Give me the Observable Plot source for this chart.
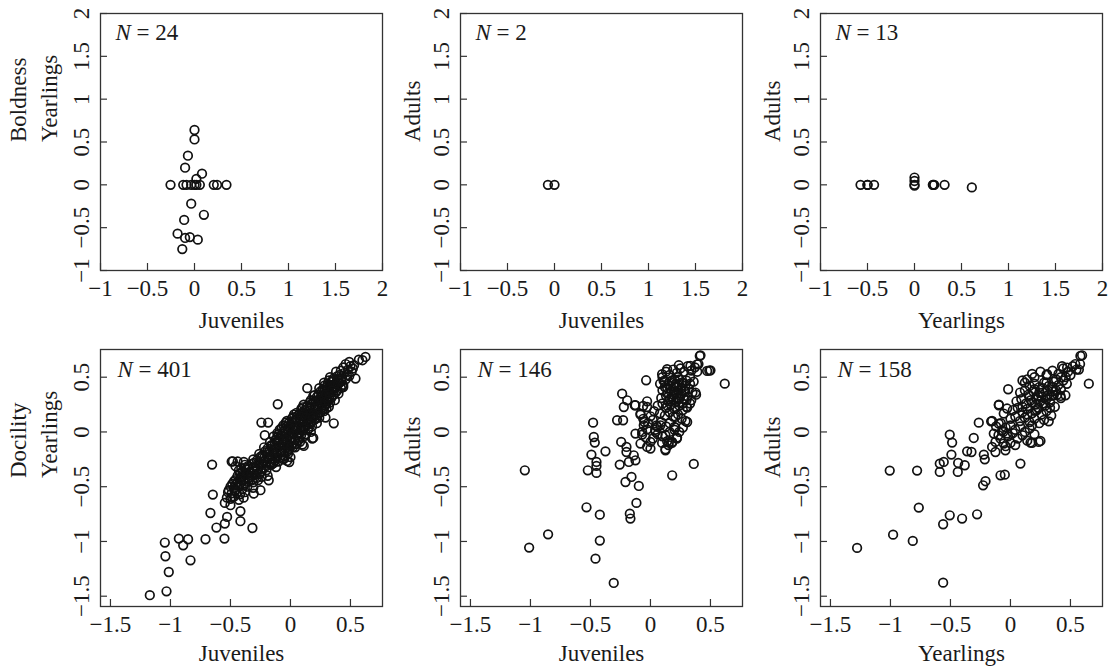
<!DOCTYPE html>
<html>
<head>
<meta charset="utf-8">
<script src="https://cdn.jsdelivr.net/npm/d3@7"></script>
<script src="https://cdn.jsdelivr.net/npm/@observablehq/plot@0.6"></script>
<style>
  html, body { margin: 0; padding: 0; background: #fff; overflow: hidden; }
  #fig { position: relative; width: 1110px; height: 669px; }
  #fig > svg { position: absolute; font-family: "Liberation Serif", "DejaVu Serif", serif !important; }
  #fig > svg text { font-family: "Liberation Serif", "DejaVu Serif", serif !important; }
</style>
</head>
<body>
<div id="fig"></div>
<script>
// ---------- data ----------
const boldJuvYear = [[0,0.64],[0,0.53],[-0.07,0.34],[-0.1,0.2],[0.08,0.13],[0.02,0.07],[-0.255,0],[-0.12,0],[-0.085,0],[-0.035,0],[0,0],[0.057,0],[0.205,0],[0.24,0],[0.34,0],[0.02,0],[-0.035,-0.22],[0.1,-0.35],[-0.11,-0.41],[-0.18,-0.57],[-0.1,-0.62],[-0.05,-0.61],[0.035,-0.64],[-0.13,-0.75]];
const boldJuvAdult = [[-0.07,0],[0,0]];
const boldYearAdult = [[-0.574,0],[-0.5,0],[-0.43,0],[0,0.085],[0,0.045],[0,-0.01],[0,0],[0.195,0],[0.21,0],[0.32,0],[0.61,-0.03],[0.2,0],[-0.5,0]];

const docJuvYear = [
[-1.172,-1.491],[-1.033,-1.455],[-1.014,-1.279],[-1.042,-1.135],[-1.047,-1.01],[-0.93,-0.974],[-0.894,-1.035],[-0.853,-0.98],[-0.833,-1.172],[-0.708,-0.98],[-0.55,-0.974],[-0.617,-0.873],[-0.667,-0.74],[-0.647,-0.572],[-0.653,-0.298],[-0.317,-0.877],[-0.417,-0.815],[-0.547,-0.837],[-0.528,-0.776],[-0.417,-0.724],[-0.547,-0.648],[-0.5,-0.669],[-0.486,-0.594],[-0.514,-0.532],[-0.464,-0.532],
[-0.106,0.253],[-0.242,0.086],[-0.186,0.086],[-0.48,-0.268],[-0.458,-0.313],[-0.389,-0.274],[-0.306,-0.563],[-0.25,-0.532],[-0.181,-0.441],[-0.214,-0.03],[0.361,0.079],[0.292,0.131],[0.181,-0.06],[0.111,-0.128],[-0.028,-0.265],[0.57,0.66],[0.625,0.685],[0.6,0.655],[0.542,0.488],
[0.46,0.62],[0.5,0.6],[0.53,0.61],[0.49,0.64],[0.44,0.59],
[0.38,0.55],[0.42,0.56],[0.45,0.54],[0.48,0.57],[0.51,0.55],[0.41,0.52],[0.47,0.52],[0.52,0.58],
[0.33,0.5],[0.36,0.49],[0.39,0.51],[0.43,0.5],[0.46,0.48],[0.49,0.51],[0.35,0.46],[0.4,0.47],
[0.28,0.45],[0.31,0.44],[0.34,0.46],[0.37,0.44],[0.41,0.45],[0.44,0.43],[0.3,0.41],[0.33,0.42],[0.38,0.41],[0.42,0.4],
[0.24,0.4],[0.27,0.39],[0.3,0.38],[0.35,0.39],[0.39,0.38],[0.44,0.41],[0.14,0.4],[0.26,0.36],[0.29,0.35],[0.33,0.36],[0.36,0.34],[0.4,0.35],
[0.19,0.33],[0.22,0.32],[0.25,0.31],[0.28,0.32],[0.31,0.3],[0.34,0.31],[0.37,0.29],[0.17,0.29],[0.21,0.28],[0.24,0.27],[0.27,0.28],[0.3,0.26],[0.33,0.27],
[0.11,0.25],[0.14,0.24],[0.17,0.25],[0.2,0.23],[0.23,0.24],[0.26,0.22],[0.29,0.24],[0.32,0.23],[0.09,0.21],[0.12,0.2],[0.16,0.21],[0.19,0.19],[0.22,0.2],[0.25,0.18],[0.28,0.19],
[0.03,0.16],[0.06,0.15],[0.09,0.17],[0.12,0.15],[0.15,0.16],[0.18,0.14],[0.21,0.15],[0.24,0.13],[0.01,0.12],[0.04,0.11],[0.08,0.12],[0.11,0.1],[0.14,0.11],[0.17,0.09],[0.2,0.11],[-0.03,0.1],[0.22,0.08],
[-0.06,0.06],[-0.03,0.05],[0,0.07],[0.03,0.05],[0.06,0.06],[0.09,0.04],[0.12,0.05],[0.15,0.03],[0.18,0.05],[-0.09,0.02],[-0.05,0.01],[-0.02,0.02],[0.01,0],[0.04,0.01],[0.07,-0.01],[0.1,0.01],[0.13,-0.02],[0.17,0],[-0.11,-0.01],
[-0.14,-0.04],[-0.11,-0.05],[-0.08,-0.03],[-0.05,-0.06],[-0.02,-0.04],[0.01,-0.05],[0.04,-0.07],[0.07,-0.05],[0.19,-0.055],[-0.17,-0.09],[-0.13,-0.1],[-0.1,-0.08],[-0.07,-0.11],[-0.04,-0.09],[-0.01,-0.12],[0.02,-0.1],[0.05,-0.11],[0.08,-0.09],[0.1,-0.115],
[-0.22,-0.14],[-0.19,-0.15],[-0.16,-0.13],[-0.13,-0.16],[-0.1,-0.14],[-0.07,-0.17],[-0.04,-0.15],[-0.01,-0.16],[0.02,-0.14],[-0.26,-0.2],[-0.23,-0.21],[-0.2,-0.19],[-0.17,-0.22],[-0.14,-0.2],[-0.11,-0.21],[-0.08,-0.19],[-0.05,-0.22],[-0.02,-0.2],[0,-0.23],
[-0.31,-0.25],[-0.28,-0.26],[-0.25,-0.24],[-0.22,-0.27],[-0.19,-0.25],[-0.16,-0.28],[-0.13,-0.26],[-0.1,-0.27],[-0.06,-0.25],[-0.01,-0.275],[-0.49,-0.27],[-0.44,-0.27],[-0.38,-0.3],[-0.35,-0.31],[-0.32,-0.29],[-0.29,-0.32],[-0.26,-0.3],[-0.23,-0.33],[-0.2,-0.31],[-0.16,-0.3],[-0.12,-0.32],
[-0.43,-0.35],[-0.4,-0.36],[-0.37,-0.34],[-0.34,-0.37],[-0.31,-0.35],[-0.28,-0.38],[-0.24,-0.36],[-0.2,-0.35],[-0.44,-0.4],[-0.41,-0.41],[-0.38,-0.39],[-0.35,-0.42],[-0.32,-0.4],[-0.28,-0.42],[-0.24,-0.41],[-0.19,-0.4],
[-0.47,-0.45],[-0.44,-0.46],[-0.41,-0.44],[-0.38,-0.47],[-0.35,-0.45],[-0.31,-0.46],[-0.27,-0.44],[-0.5,-0.5],[-0.47,-0.51],[-0.44,-0.49],[-0.4,-0.52],[-0.36,-0.5],[-0.31,-0.51],
[-0.52,-0.55],[-0.49,-0.56],[-0.46,-0.54],[-0.42,-0.57],[-0.38,-0.55],[-0.53,-0.6],[-0.5,-0.61],[-0.47,-0.59],[-0.43,-0.62],[-0.39,-0.6],
[0.32,0.47],[0.355,0.475],[0.395,0.485],[0.425,0.465],
[0.285,0.425],[0.325,0.43],[0.36,0.42],[0.395,0.43],[0.43,0.42],
[0.25,0.37],[0.285,0.375],[0.315,0.365],[0.345,0.38],[0.38,0.365],
[0.2,0.335],[0.235,0.34],[0.265,0.33],[0.295,0.34],[0.325,0.325],[0.355,0.335],
[0.16,0.27],[0.19,0.285],[0.225,0.29],[0.255,0.265],[0.285,0.275],[0.315,0.285],
[0.1,0.225],[0.135,0.225],[0.165,0.23],[0.205,0.215],[0.235,0.225],[0.27,0.21],[0.3,0.215],
[0.05,0.175],[0.075,0.165],[0.105,0.18],[0.135,0.17],[0.165,0.175],[0.195,0.165],[0.23,0.17],
[0.02,0.135],[0.05,0.13],[0.095,0.14],[0.125,0.13],[0.155,0.125],[0.185,0.13],[0.215,0.125],
[-0.04,0.085],[-0.015,0.08],[0.015,0.09],[0.045,0.085],[0.075,0.08],[0.105,0.075],[0.135,0.07],[0.165,0.075],
[-0.075,0.035],[-0.045,0.03],[-0.01,0.04],[0.02,0.03],[0.055,0.035],[0.085,0.02],[0.115,0.03],[0.145,0.02],
[-0.1,-0.02],[-0.065,-0.015],[-0.035,-0.02],[-0.005,-0.025],[0.025,-0.02],[0.055,-0.03],[0.09,-0.025],[0.12,-0.035],
[-0.125,-0.07],[-0.095,-0.065],[-0.06,-0.075],[-0.03,-0.07],[0,-0.08],[0.035,-0.075],[0.065,-0.08],
[-0.16,-0.12],[-0.12,-0.125],[-0.09,-0.13],[-0.055,-0.12],[-0.025,-0.135],[0.01,-0.125],[0.04,-0.14],
[-0.21,-0.175],[-0.175,-0.18],[-0.145,-0.17],[-0.115,-0.185],[-0.085,-0.175],[-0.05,-0.18],[-0.02,-0.175],
[-0.25,-0.225],[-0.215,-0.23],[-0.185,-0.225],[-0.15,-0.24],[-0.12,-0.23],[-0.085,-0.235],[-0.05,-0.24],
[-0.3,-0.28],[-0.27,-0.285],[-0.235,-0.29],[-0.2,-0.28],[-0.17,-0.29],[-0.14,-0.285],
[-0.41,-0.33],[-0.38,-0.325],[-0.345,-0.335],[-0.31,-0.33],[-0.275,-0.345],[-0.245,-0.335],
[-0.42,-0.38],[-0.39,-0.375],[-0.36,-0.385],[-0.325,-0.38],[-0.295,-0.39],[-0.26,-0.385],
[-0.455,-0.43],[-0.42,-0.425],[-0.39,-0.435],[-0.355,-0.43],[-0.32,-0.44],
[-0.485,-0.475],[-0.455,-0.48],[-0.42,-0.475],[-0.39,-0.49]
];

const docJuvAdult = [
[-1.047,-0.35],[-1.011,-1.056],[-0.853,-0.935],[-0.533,-0.688],[-0.422,-0.755],[-0.422,-0.992],[-0.458,-1.157],[-0.306,-1.379],
[-0.478,0.085],[-0.472,-0.046],[-0.464,-0.097],[-0.375,-0.177],[-0.492,-0.207],[-0.45,-0.274],[-0.45,-0.31],[-0.522,-0.35],[-0.45,-0.374],
[-0.278,0.107],[-0.228,0.107],[-0.244,-0.091],[-0.256,-0.298],[-0.236,0.35],[-0.194,0.289],[-0.222,0.228],[-0.131,0.244],
[-0.2,-0.137],[-0.2,-0.183],[-0.18,-0.274],[-0.139,-0.213],[-0.125,-0.259],[-0.208,-0.457],[-0.158,-0.411],[-0.097,-0.493],[-0.117,-0.648],[-0.172,-0.746],[-0.167,-0.791],
[-0.036,0.472],[-0.028,0.28],[-0.061,0.237],[-0.083,0.158],[-0.05,0.091],[-0.028,0.024],[-0.069,-0.024],[0,0.143],[0,-0.091],[0,-0.152],[0.042,0],[0.056,0.046],[0.083,0.061],[0.125,-0.03],[0.139,-0.085],[0.181,-0.091],[0.125,-0.167],[0.181,-0.396],[0.361,-0.292],[0.619,0.441],[0.417,0.7],[0.5,0.563],[0.49,0.56],[0.306,0.091],[0.208,0.137],[0.2,0.046],
[-0.125,0.244],[-0.083,0.168],[-0.056,0.061],[-0.069,0],[-0.125,-0.015],[-0.083,-0.106],[-0.028,-0.137],[-0.028,0.228],
[0.1,0.5],[0.13,0.55],[0.16,0.52],[0.19,0.57],[0.22,0.54],[0.25,0.58],[0.28,0.55],[0.31,0.6],[0.34,0.56],[0.37,0.59],[0.4,0.62],[0.39,0.55],[0.33,0.5],
[0.08,0.44],[0.12,0.46],[0.15,0.43],[0.18,0.47],[0.21,0.44],[0.24,0.48],[0.27,0.45],[0.3,0.47],[0.33,0.44],[0.36,0.46],
[0.1,0.38],[0.14,0.4],[0.17,0.37],[0.2,0.41],[0.23,0.38],[0.26,0.4],[0.29,0.37],[0.32,0.39],[0.35,0.36],[0.38,0.34],
[0.09,0.31],[0.13,0.33],[0.16,0.3],[0.19,0.34],[0.22,0.31],[0.25,0.33],[0.28,0.3],[0.31,0.32],[0.34,0.29],
[0.06,0.24],[0.1,0.26],[0.13,0.22],[0.17,0.25],[0.2,0.21],[0.24,0.24],[0.27,0.2],[0.3,0.23],[0.33,0.26],
[0.03,0.19],[0.08,0.17],[0.12,0.15],[0.16,0.18],[0.19,0.14],[0.23,0.16],[0.26,0.12],
[-0.06,0.12],[-0.02,0.08],[0.02,0.11],[0.05,0.06],[0.09,0.09],[0.13,0.05],[0.16,0.08],[0.2,0.02],[0.24,0],[0.27,0.04],[0.22,-0.06],[0.18,-0.1],[0.15,-0.12],[0.1,-0.04],[0.06,-0.02],[0.02,-0.06],[-0.04,-0.05],[0.04,0.02],[0.16,0],
[0.411,0.694],[0.472,0.557],[0.389,0.618],[0.333,0.603],[0.236,0.609],[0.139,0.573],[0.097,0.527],[0.11,0.466],[0.375,0.36],[0.306,0.223],[0.292,0.1],[0.208,0.04],[0.222,-0.051],[0.153,-0.097],[0.097,-0.1],[0.125,-0.158],
[0.14,0.35],[0.17,0.42],[0.2,0.36],[0.23,0.43],[0.26,0.35],[0.29,0.42],[0.15,0.28],[0.18,0.32],[0.21,0.27],[0.24,0.3],[0.27,0.26],[0.3,0.29],[0.2,0.48],[0.23,0.5],[0.26,0.45],[0.16,0.46],[0.12,0.41],[0.28,0.38],[0.22,0.35],[0.25,0.39],[0.19,0.3],[0.14,0.24],[0.21,0.22]
];

const docYearAdult = [
[-1.278,-1.059],[-1.006,-0.353],[-0.778,-0.353],[-0.764,-0.691],[-0.978,-0.938],[-0.814,-0.995],[-0.561,-1.376],[-0.561,-0.843],[-0.506,-0.761],[-0.403,-0.791],[-0.278,-0.752],
[-0.506,-0.024],[-0.486,-0.097],[-0.492,-0.207],[-0.589,-0.289],[-0.589,-0.365],[-0.556,-0.274],[-0.436,-0.283],[-0.439,-0.365],[-0.381,-0.304],[-0.361,-0.177],[-0.325,-0.183],[-0.306,-0.055],[-0.264,0.085],[-0.222,-0.207],[-0.214,-0.25],[-0.228,-0.487],[-0.208,-0.45],[-0.083,-0.396],[-0.047,-0.39],[0.083,-0.289],[-0.019,0.39],[-0.097,0.25],[-0.161,0.097],[0.236,-0.091],[0.319,0.097],[0.653,0.441],[0.583,0.694],[0.361,0.335],[0.458,0.335],
[-0.153,0.1],[-0.097,0.244],[-0.056,0.168],[-0.028,0.214],[-0.097,0.076],[-0.069,0.015],[-0.028,-0.015],[-0.139,-0.015],[-0.125,-0.091],[-0.153,-0.137],[-0.056,-0.106],[-0.125,-0.183],[-0.042,-0.167],[-0.083,-0.061],
[0.2,0.5],[0.25,0.55],[0.3,0.52],[0.35,0.56],[0.4,0.53],[0.44,0.58],[0.48,0.55],[0.52,0.6],[0.55,0.57],[0.58,0.62],[0.5,0.52],[0.46,0.5],
[0.12,0.45],[0.16,0.42],[0.2,0.44],[0.24,0.41],[0.28,0.45],[0.32,0.42],[0.36,0.46],[0.4,0.43],[0.44,0.47],[0.47,0.44],[0.42,0.39],
[0.08,0.36],[0.12,0.38],[0.15,0.34],[0.19,0.37],[0.23,0.33],[0.27,0.36],[0.31,0.33],[0.35,0.37],[0.39,0.34],[0.42,0.31],
[0.05,0.28],[0.09,0.3],[0.13,0.26],[0.17,0.29],[0.21,0.25],[0.25,0.28],[0.29,0.24],[0.33,0.27],[0.37,0.23],
[0.02,0.2],[0.06,0.22],[0.1,0.18],[0.14,0.21],[0.18,0.17],[0.22,0.2],[0.26,0.16],[0.3,0.19],[0.34,0.15],
[0,0.12],[0.04,0.14],[0.08,0.1],[0.12,0.13],[0.16,0.09],[0.2,0.12],[0.24,0.08],[0.28,0.11],
[-0.12,0.05],[-0.08,0.08],[-0.04,0.04],[0,0.06],[0.04,0.02],[0.08,0.05],[0.12,0],[0.16,0.03],[0.2,-0.02],[0.18,0.06],[-0.1,-0.03],[-0.06,0],[-0.02,-0.04],[0.02,-0.01],[0.06,-0.06],[0.1,-0.03],[0.14,-0.08],[0,-0.1],[-0.04,-0.13],[0.04,-0.12],[0.18,-0.1],
[0.597,0.7],[0.472,0.588],[0.54,0.62],[0.57,0.57],[0.43,0.6],[0.417,0.329],[0.208,0.192],[0.25,-0.082],[0.167,-0.097],[0.139,0.481],[0.1,0.47],[0.18,0.53],[0.306,0.527],
[0.22,0.3],[0.26,0.32],[0.3,0.3],[0.34,0.33],[0.27,0.4],[0.31,0.38],[0.35,0.41],[0.38,0.38],[0.18,0.27],[0.23,0.22],[0.28,0.26],[0.33,0.22],[0.16,0.33],[0.2,0.39],[0.24,0.36],[0.38,0.48],[0.42,0.5],[0.3,0.45],[0.1,0.23],[0.14,0.16]
];

const topTicks = [-1, -0.5, 0, 0.5, 1, 1.5, 2];
const bottomXTicks = [-1.5, -1, -0.5, 0, 0.5];
const bottomYTicks = [-1.5, -1, -0.5, 0, 0.5];
const topDomain = [-1, 2];
const bottomXDomain = [-1.583, 0.767];
const bottomYDomain = [-1.594, 0.753];

// ---------- panels ----------
const panels = [
  {data: boldJuvYear,   left: 0,   top: 0,   width: 390, ml: 100, row: "top", xLab: "Juveniles", yLab: "Yearlings", yDx: -51, outer: "Boldness", n: 24},
  {data: boldJuvAdult,  left: 390, top: 0,   width: 360, ml: 70,  row: "top", xLab: "Juveniles", yLab: "Adults",    yDx: -48, n: 2},
  {data: boldYearAdult, left: 750, top: 0,   width: 360, ml: 70,  row: "top", xLab: "Yearlings", yLab: "Adults",    yDx: -48, n: 13},
  {data: docJuvYear,    left: 0,   top: 335, width: 390, ml: 100, row: "bottom", xLab: "Juveniles", yLab: "Yearlings", yDx: -51, outer: "Docility", n: 401},
  {data: docJuvAdult,   left: 390, top: 335, width: 360, ml: 70,  row: "bottom", xLab: "Juveniles", yLab: "Adults",    yDx: -48, n: 146},
  {data: docYearAdult,  left: 750, top: 335, width: 360, ml: 70,  row: "bottom", xLab: "Yearlings", yLab: "Adults",    yDx: -48, n: 158}
];

const fmt = d => (d < 0 ? "\u2212" : "") + Math.abs(d);
const FONT = "Liberation Serif, DejaVu Serif, serif";
const FS = 23;
const ink = "#1a1a1a";
const fig = document.getElementById("fig");
const tx = {fontSize: FS, fontFamily: FONT, fill: ink};

for (const p of panels) {
  const isTop = p.row === "top";
  const height = isTop ? 335 : 334;
  const mt = isTop ? 13 : 14;
  const mb = isTop ? 65 : 63;
  const mr = 8;
  const fw = p.width - p.ml - mr;
  const fh = height - mt - mb;
  const xTicks = isTop ? topTicks : bottomXTicks;
  const yTicks = isTop ? topTicks : bottomYTicks;
  const marks = [
    Plot.frame({stroke: "#333", strokeWidth: 1.3}),
    Plot.tickX(xTicks, {x: d => d, insetTop: fh - 7, stroke: "#333", strokeWidth: 1.2}),
    Plot.tickY(yTicks, {y: d => d, insetRight: fw - 7, stroke: "#333", strokeWidth: 1.2}),
    Plot.axisX({ticks: xTicks, tickFormat: fmt, tickSize: 0, tickPadding: 9, label: null, ...tx}),
    Plot.axisY({ticks: yTicks, tickFormat: fmt, tickSize: 0, tickPadding: 12, tickRotate: -90, label: null, ...tx}),
    Plot.dot(p.data, {x: d => d[0], y: d => d[1], r: 4.3, stroke: "#111", strokeWidth: 1.7, fill: "none"}),
    Plot.text([p.xLab], {text: d => d, frameAnchor: "bottom", dy: isTop ? 50 : 47, lineAnchor: "middle", ...tx}),
    Plot.text([p.yLab], {text: d => d, frameAnchor: "left", dx: p.yDx, rotate: -90, lineAnchor: "middle", ...tx}),
    Plot.text(["N"], {text: d => d, frameAnchor: "top-left", dx: isTop ? 15 : 17, dy: isTop ? 19 : 20, textAnchor: "start", lineAnchor: "middle", fontStyle: "italic", ...tx}),
    Plot.text([`= ${p.n}`], {text: d => d, frameAnchor: "top-left", dx: isTop ? 36 : 38, dy: isTop ? 19 : 20, textAnchor: "start", lineAnchor: "middle", ...tx})
  ];
  if (p.outer) {
    marks.push(Plot.text([p.outer], {text: d => d, frameAnchor: "left", dx: -82, rotate: -90, lineAnchor: "middle", ...tx}));
  }
  const svg = Plot.plot({
    width: p.width,
    height,
    marginLeft: p.ml,
    marginRight: mr,
    marginTop: mt,
    marginBottom: mb,
    x: {domain: isTop ? topDomain : bottomXDomain, label: null},
    y: {domain: isTop ? topDomain : bottomYDomain, label: null},
    style: {background: "transparent", fontFamily: FONT, fontSize: FS + "px", color: ink, overflow: "visible"},
    marks
  });
  svg.style.left = p.left + "px";
  svg.style.top = p.top + "px";
  svg.style.fontFamily = FONT;
  fig.appendChild(svg);
}
</script>
</body>
</html>
